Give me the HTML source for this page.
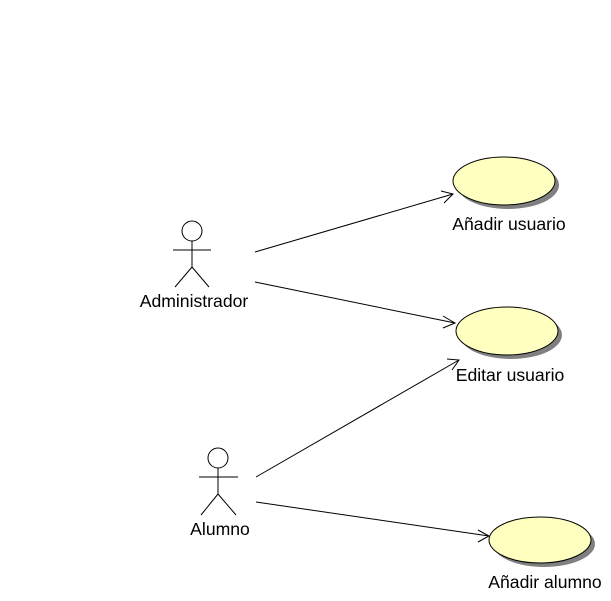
<!DOCTYPE html>
<html><head><style>body{margin:0;background:#fff}svg{display:block}text{font-family:"Liberation Sans",Arial,sans-serif;font-size:17.6px;fill:#000}</style></head>
<body><svg width="611" height="601" xmlns="http://www.w3.org/2000/svg">
<g fill="#808080">
<ellipse cx="508" cy="185" rx="51" ry="24"/>
<ellipse cx="511" cy="335" rx="51" ry="24"/>
<ellipse cx="544" cy="544" rx="51" ry="23"/>
</g>
<g fill="#ffffc0" stroke="#000" stroke-width="1">
<ellipse cx="504" cy="181" rx="51" ry="24"/>
<ellipse cx="507" cy="331" rx="51" ry="24"/>
<ellipse cx="540" cy="540" rx="51" ry="23"/>
</g>
<g stroke="#000" fill="none" stroke-width="1">
<circle cx="192" cy="231" r="10"/>
<line x1="192" y1="241" x2="192" y2="267"/>
<line x1="173" y1="250" x2="211" y2="250"/>
<line x1="192" y1="267" x2="175" y2="287"/>
<line x1="192" y1="267" x2="209" y2="287"/>
<circle cx="218" cy="458" r="10"/>
<line x1="218" y1="468" x2="218" y2="494"/>
<line x1="199" y1="477" x2="238" y2="477"/>
<line x1="218" y1="494" x2="201" y2="515"/>
<line x1="218" y1="494" x2="236" y2="515"/>
<line x1="255" y1="252" x2="453" y2="194"/>
<polyline points="441,191 453,194 444,203"/>
<line x1="255" y1="282" x2="455" y2="323"/>
<polyline points="443,316 455,323 443,328"/>
<line x1="256" y1="477" x2="459" y2="360"/>
<polyline points="447,359 459,360 452,370"/>
<line x1="256" y1="502" x2="489" y2="536"/>
<polyline points="478,530 489,536 478,542"/>
</g>
<text x="194" y="307" text-anchor="middle">Administrador</text>
<text x="509" y="230" text-anchor="middle">Añadir usuario</text>
<text x="510" y="381" text-anchor="middle">Editar usuario</text>
<text x="220" y="535" text-anchor="middle">Alumno</text>
<text x="545" y="588" text-anchor="middle">Añadir alumno</text>
</svg></body></html>
